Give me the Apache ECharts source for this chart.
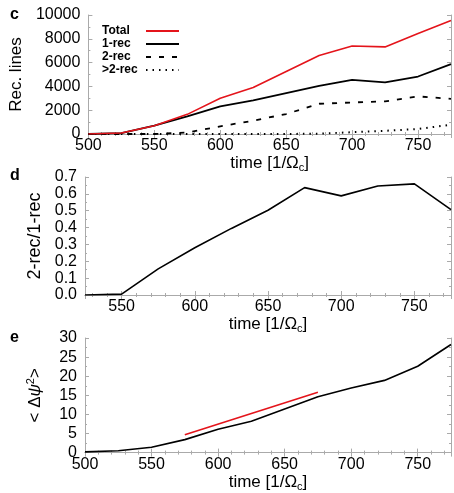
<!DOCTYPE html>
<html>
<head>
<meta charset="utf-8">
<script src="https://cdn.jsdelivr.net/npm/echarts@6/dist/echarts.min.js"></script>
<style>html,body{margin:0;padding:0;background:#fff;}#chart{width:454px;height:493px;}</style>
</head>
<body>
<div id="chart"></div>
<script>
// ---- data ----
var time = [500, 525, 550, 575, 600, 625, 650, 675, 700, 725, 750, 775];
var total = [0, 80, 700, 1650, 3000, 3900, 5250, 6600, 7400, 7320, 8450, 9530];
var oneRec = [0, 80, 700, 1480, 2320, 2820, 3440, 4050, 4550, 4330, 4830, 5870];
var twoRec = [0, 0, 0, 120, 640, 1120, 1680, 2540, 2650, 2740, 3160, 2960];
var moreRec = [0, 0, 0, 0, 0, 0, 0, 30, 150, 270, 420, 780];

var timeD = [525, 550, 575, 600, 625, 650, 675, 700, 725, 750, 775];
var ratio = [0, 0.005, 0.155, 0.28, 0.395, 0.503, 0.637, 0.588, 0.647, 0.659, 0.507];

var psi2 = [0.2, 0.5, 1.4, 3.4, 6.1, 8.2, 11.4, 14.6, 16.9, 18.9, 22.6, 28.3];
var fitTime = [575, 675];
var fitVal = [4.65, 15.8];

var seriesNames = ['Total', '1-rec', '2-rec', '>2-rec'];
var panelLabels = ['c', 'd', 'e'];
var xName = 'time [1/Ω{sub|c}]';

function pairs(xs, ys) { return xs.map(function (x, i) { return [x, ys[i]]; }); }

var FONT = '"Liberation Sans", Arial, sans-serif';
var frameColor = '#aaa';
var nameRich = {
  sub: { fontSize: 11, fontFamily: FONT, padding: [9, 0, 0, 0] },
  sup: { fontSize: 11, fontFamily: FONT, padding: [0, 0, 9, 0] },
  it: { fontSize: 17, fontFamily: FONT, fontStyle: 'italic' }
};
function xFmt(v) { return (v % 50 === 0 && v < 775) ? String(v) : ''; }

function mainX(grid, min, max, opts) {
  var a = {
    type: 'value', gridIndex: grid, min: min, max: max, position: 'bottom',
    name: xName, nameLocation: 'middle', nameGap: 19,
    nameTextStyle: { fontSize: 17, fontFamily: FONT, color: '#000', verticalAlign: 'top', rich: nameRich },
    axisLine: { show: true, lineStyle: { color: frameColor, width: 1 } },
    axisTick: { show: true, inside: true, length: 4, lineStyle: { color: frameColor } },
    minorTick: { show: true, splitNumber: 5, length: 2, lineStyle: { color: frameColor } },
    splitLine: { show: false },
    axisLabel: { fontSize: 16, fontFamily: FONT, color: '#000', margin: 4, formatter: xFmt, showMaxLabel: true }
  };
  for (var k in opts) a[k] = opts[k];
  return a;
}
function frameX(grid, min, max) {
  return {
    type: 'value', gridIndex: grid, min: min, max: max, position: 'top',
    axisLine: { show: true, lineStyle: { color: frameColor, width: 1 } },
    axisTick: { show: true, inside: true, length: 4, lineStyle: { color: frameColor } },
    minorTick: { show: true, splitNumber: 5, length: 2, lineStyle: { color: frameColor } },
    splitLine: { show: false }, axisLabel: { show: false }
  };
}
function mainY(grid, min, max, interval, name, gap, fmt, nameSize) {
  return {
    type: 'value', gridIndex: grid, min: min, max: max, interval: interval, position: 'left',
    name: name, nameLocation: 'middle', nameRotate: 90, nameGap: gap,
    nameTextStyle: { fontSize: nameSize, fontFamily: FONT, color: '#000', rich: nameRich },
    axisLine: { show: true, lineStyle: { color: frameColor, width: 1 } },
    axisTick: { show: true, inside: true, length: 4, lineStyle: { color: frameColor } },
    minorTick: { show: true, splitNumber: 2, length: 2, lineStyle: { color: frameColor } },
    splitLine: { show: false },
    axisLabel: { fontSize: 16, fontFamily: FONT, color: '#000', margin: 8, formatter: fmt }
  };
}
function frameY(grid, min, max, interval) {
  return {
    type: 'value', gridIndex: grid, min: min, max: max, interval: interval, position: 'right',
    axisLine: { show: true, lineStyle: { color: frameColor, width: 1 } },
    axisTick: { show: true, inside: true, length: 4, lineStyle: { color: frameColor } },
    minorTick: { show: true, splitNumber: 2, length: 2, lineStyle: { color: frameColor } },
    splitLine: { show: false }, axisLabel: { show: false }
  };
}

var chart = echarts.init(document.getElementById('chart'), null, { renderer: 'canvas' });
var option = {
  backgroundColor: '#fff',
  animation: false,
  title: [
    { text: panelLabels[0], left: 5, top: 2, textStyle: { fontSize: 16, fontWeight: 'bold', fontFamily: FONT, color: '#000' } },
    { text: panelLabels[1], left: 5, top: 163, textStyle: { fontSize: 16, fontWeight: 'bold', fontFamily: FONT, color: '#000' } },
    { text: panelLabels[2], left: 5, top: 325, textStyle: { fontSize: 16, fontWeight: 'bold', fontFamily: FONT, color: '#000' } }
  ],
  legend: {
    data: seriesNames, orient: 'vertical', align: 'right', left: 97, top: 20,
    itemWidth: 33, itemHeight: 14, itemGap: 1,
    itemStyle: { opacity: 0 },
    formatter: function (n) { return '{a|' + n + '}'; },
    textStyle: {
      rich: { a: { width: 39, align: 'left', fontSize: 12, fontWeight: 'bold', fontFamily: FONT, color: '#000' } }
    }
  },
  grid: [
    { left: 85, top: 15, width: 367, height: 119 },
    { left: 85, top: 177, width: 368, height: 118 },
    { left: 85, top: 338, width: 367, height: 119 }
  ],
  xAxis: [
    mainX(0, 500, 775, { interval: 50 }),
    mainX(1, 525, 775, { splitNumber: 5 }),
    mainX(2, 500, 775, { interval: 50 }),
    frameX(0, 500, 775), frameX(1, 525, 775), frameX(2, 500, 775)
  ],
  yAxis: [
    mainY(0, 0, 10000, 2000, 'Rec. lines', 60, function (v) { return String(v); }, 17),
    mainY(1, 0, 0.7, 0.1, '2-rec/1-rec', 39, function (v) { return v.toFixed(1); }, 18),
    mainY(2, 0, 30, 5, '< Δ{it|ψ}{sup|2}>', 40, function (v) { return String(v); }, 17),
    frameY(0, 0, 10000, 2000), frameY(1, 0, 0.7, 0.1), frameY(2, 0, 30, 5)
  ],
  series: [
    { name: seriesNames[0], type: 'line', xAxisIndex: 0, yAxisIndex: 0, data: pairs(time, total), symbol: 'none',
      lineStyle: { color: '#e4141b', width: 1.6 }, itemStyle: { color: '#e4141b' }, z: 5 },
    { name: seriesNames[1], type: 'line', xAxisIndex: 0, yAxisIndex: 0, data: pairs(time, oneRec), symbol: 'none',
      lineStyle: { color: '#000', width: 1.8 }, itemStyle: { color: '#000' } },
    { name: seriesNames[2], type: 'line', xAxisIndex: 0, yAxisIndex: 0, data: pairs(time, twoRec), symbol: 'none',
      lineStyle: { color: '#000', width: 1.8, type: [5, 8] }, itemStyle: { color: '#000' } },
    { name: seriesNames[3], type: 'line', xAxisIndex: 0, yAxisIndex: 0, data: pairs(time, moreRec), symbol: 'none',
      lineStyle: { color: '#000', width: 2, type: [1.5, 5] }, itemStyle: { color: '#000' } },
    { name: 'ratio', type: 'line', xAxisIndex: 1, yAxisIndex: 1, data: pairs(timeD, ratio), symbol: 'none',
      lineStyle: { color: '#000', width: 1.6 } },
    { name: 'psi2', type: 'line', xAxisIndex: 2, yAxisIndex: 2, data: pairs(time, psi2), symbol: 'none',
      lineStyle: { color: '#000', width: 1.6 } },
    { name: 'fit', type: 'line', xAxisIndex: 2, yAxisIndex: 2, data: pairs(fitTime, fitVal), symbol: 'none',
      lineStyle: { color: '#e4141b', width: 1.6 } }
  ]
};
chart.setOption(option);
</script>
</body>
</html>
